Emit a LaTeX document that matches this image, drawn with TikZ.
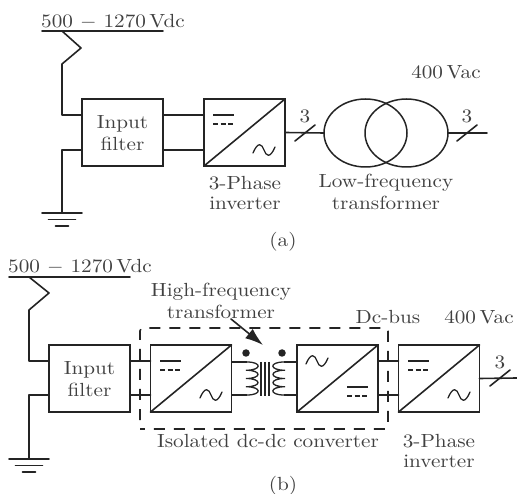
\documentclass[tikz,border=0pt]{standalone}
\usetikzlibrary{arrows.meta,shapes.geometric}
\definecolor{ink}{gray}{0.14}
\definecolor{txt}{gray}{0.25}
\newcommand{\wtx}[1]{\scalebox{2.12}[1.9]{#1}}
\tikzset{
  wire/.style={draw=ink,line width=1.6pt,line cap=round,line join=round},
  thinwire/.style={draw=ink,line width=1.3pt},
  blockbox/.style={draw=ink,line width=1.7pt,minimum width=81pt,minimum height=67pt,inner sep=0pt,outer sep=0pt},
  xfmr/.style={draw=ink,line width=1.5pt,ellipse,minimum width=83pt,minimum height=68pt,inner sep=0pt,outer sep=0pt},
  lbl/.style={text=txt,inner sep=0pt,align=center},
  dotmark/.style={circle,fill=ink,minimum size=7.5pt,inner sep=0pt},
  dcpic/.pic={
    \draw[thinwire] (-10.5,0) -- (10.5,0);
    \draw[thinwire,dash pattern=on 5pt off 2.5pt] (-10.5,9) -- (10.5,9);
  },
  acpic/.pic={
    \draw[thinwire,line cap=round] (-11,3) .. controls (-6,-9) and (-2,-6) .. (0,0) .. controls (2,6) and (6,9) .. (11,-3);
  },
  gndpic/.pic={
    \draw[wire] (-20,0) -- (20,0);
    \draw[wire] (-13.5,6.5) -- (13.5,6.5);
    \draw[wire] (-6.5,13) -- (6.5,13);
  },
  slashpic/.pic={\draw[wire] (-10,8) -- (10,-8);},
  coilr/.pic={
    \draw[thinwire] (0,0) .. controls (15,0) and (15,8.25) .. (-1,8.25)
      .. controls (15,8.25) and (15,16.5) .. (-1,16.5)
      .. controls (15,16.5) and (15,24.75) .. (-1,24.75)
      .. controls (15,24.75) and (15,33) .. (0,33);
  },
  coill/.pic={
    \draw[thinwire] (0,0) .. controls (-15,0) and (-15,8.25) .. (1,8.25)
      .. controls (-15,8.25) and (-15,16.5) .. (1,16.5)
      .. controls (-15,16.5) and (-15,24.75) .. (1,24.75)
      .. controls (-15,24.75) and (-15,33) .. (0,33);
  }
}
\begin{document}
\begin{tikzpicture}[x=1pt,y=-1pt]
\useasboundingbox (0,0) rectangle (517,494);
% ---------- (a)
\node[lbl] (va) at (113,22) {\wtx{500 $-$ 1270\,Vdc}};
\coordinate (busaL) at (42,31);
\coordinate (busaR) at (163,31);
\draw[wire] (busaL) -- (busaR);
\node[blockbox] (fa) at (122.5,132.5) {};
\node[lbl] (fat) at (122.5,124) {\wtx{Input}};
\node[lbl] (fat2) at (122.5,144) {\wtx{filter}};
\node[blockbox] (ia) at (244.5,132.5) {};
\draw[wire] (ia.south west) -- (ia.north east);
\pic at (223.5,115) {dcpic};
\pic at (264,150) {acpic};
\coordinate (za0) at (62,31);
\coordinate (za1) at (81,48);
\coordinate (za2) at (62,64);
\coordinate (za3) at (62,115);
\draw[wire] (za0) -- (za1) -- (za2) -- (za3) -- (za3 -| fa.west);
\coordinate (ga0) at (62,150);
\coordinate (ga1) at (62,213);
\draw[wire] (ga0 -| fa.west) -- (ga0) -- (ga1);
\pic at (ga1) {gndpic};
\coordinate (ma) at (163,115);
\coordinate (mb) at (163,150);
\draw[wire] (ma) -- (ma -| ia.west);
\draw[wire] (mb) -- (mb -| ia.west);
\node[xfmr] (t1) at (365.5,133) {};
\node[xfmr] (t2) at (406.5,133) {};
\coordinate (outa) at (487,133);
\draw[wire] (ia.east) -- (t1.west);
\draw[wire] (t2.east) -- (outa);
\pic at (305,133) {slashpic};
\pic at (467,133) {slashpic};
\node[lbl] (n3a) at (305,116) {\wtx{3}};
\node[lbl] (n3b) at (467,116) {\wtx{3}};
\node[lbl] (vaca) at (446,72) {\wtx{400\,Vac}};
\node[lbl] (pha) at (245,183) {\wtx{3-Phase}};
\node[lbl] (inva) at (245,203) {\wtx{inverter}};
\node[lbl] (lf) at (386,183) {\wtx{Low-frequency}};
\node[lbl] (lft) at (386,203) {\wtx{transformer}};
\node[lbl] (capa) at (283,242) {\wtx{(a)}};
% ---------- (b)
\node[lbl] (vb) at (80,267) {\wtx{500 $-$ 1270\,Vdc}};
\coordinate (busbL) at (9,277);
\coordinate (busbR) at (130,277);
\draw[wire] (busbL) -- (busbR);
\node[blockbox] (fb) at (89.5,378.5) {};
\node[lbl] (fbt) at (89.5,370) {\wtx{Input}};
\node[lbl] (fbt2) at (89.5,390) {\wtx{filter}};
\node[blockbox] (c1) at (191,378.5) {};
\node[blockbox] (c2) at (337.5,378.5) {};
\node[blockbox] (ib) at (439,378.5) {};
\draw[wire] (c1.south west) -- (c1.north east);
\draw[wire] (c2.south west) -- (c2.north east);
\draw[wire] (ib.south west) -- (ib.north east);
\pic at (170.5,361) {dcpic};
\pic at (211,395) {acpic};
\pic at (317,361) {acpic};
\pic at (357.5,387) {dcpic};
\pic at (418.5,361) {dcpic};
\pic at (459,395) {acpic};
\coordinate (zb0) at (29,277);
\coordinate (zb1) at (49,293);
\coordinate (zb2) at (29,310);
\coordinate (zb3) at (29,361);
\draw[wire] (zb0) -- (zb1) -- (zb2) -- (zb3) -- (zb3 -| fb.west);
\coordinate (gb0) at (29,395);
\coordinate (gb1) at (29,459);
\draw[wire] (gb0 -| fb.west) -- (gb0) -- (gb1);
\pic at (gb1) {gndpic};
\coordinate (yt) at (200,361);
\coordinate (yb) at (200,395);
\draw[wire] (yt -| fb.east) -- (yt -| c1.west);
\draw[wire] (yb -| fb.east) -- (yb -| c1.west);
\draw[wire] (yt -| c2.east) -- (yt -| ib.west);
\draw[wire] (yb -| c2.east) -- (yb -| ib.west);
% transformer
\coordinate (cl) at (247,362);
\coordinate (cr) at (284,362);
\coordinate (clb) at (247,395);
\coordinate (crb) at (284,395);
\draw[thinwire] (cl) -- (cl -| c1.east);
\draw[thinwire] (clb) -- (clb -| c1.east);
\draw[thinwire] (cr) -- (cr -| c2.west);
\draw[thinwire] (crb) -- (crb -| c2.west);
\pic at (cl) {coilr};
\pic at (cr) {coill};
\coordinate (core0) at (261,362);
\coordinate (core1) at (265,362);
\coordinate (core2) at (269,362);
\foreach \k in {core0,core1,core2} \draw[thinwire] (\k) -- ++(0,34);
\node[dotmark] (d1) at (246,353) {};
\node[dotmark] (d2) at (282,353) {};
\node[lbl] (hf) at (221,292) {\wtx{High-frequency}};
\node[lbl] (hft) at (221,312) {\wtx{transformer}};
\coordinate (tip) at (263,345);
\coordinate (tail) at (231,319);
\draw[wire,-{Latex[length=18pt,width=12pt]}] (tail) -- (tip);
% dashed enclosure
\draw[draw=ink,line width=1.6pt,dash pattern=on 11pt off 9pt,rounded corners=3pt]
  (140,420) -- (140,328) -- (388,328) -- (388,429) -- (140,429);
% output
\coordinate (outb) at (517,378);
\draw[wire] (ib.east) -- (outb);
\pic at (500,378) {slashpic};
\node[lbl] (n3c) at (500,362) {\wtx{3}};
\node[lbl] (dcb) at (388,317) {\wtx{Dc-bus}};
\node[lbl] (vacb) at (479,317) {\wtx{400\,Vac}};
\node[lbl] (iso) at (268,441) {\wtx{Isolated dc-dc converter}};
\node[lbl] (phb) at (439,441) {\wtx{3-Phase}};
\node[lbl] (invb) at (439,461) {\wtx{inverter}};
\node[lbl] (capb) at (283,486) {\wtx{(b)}};
\end{tikzpicture}
\end{document}
